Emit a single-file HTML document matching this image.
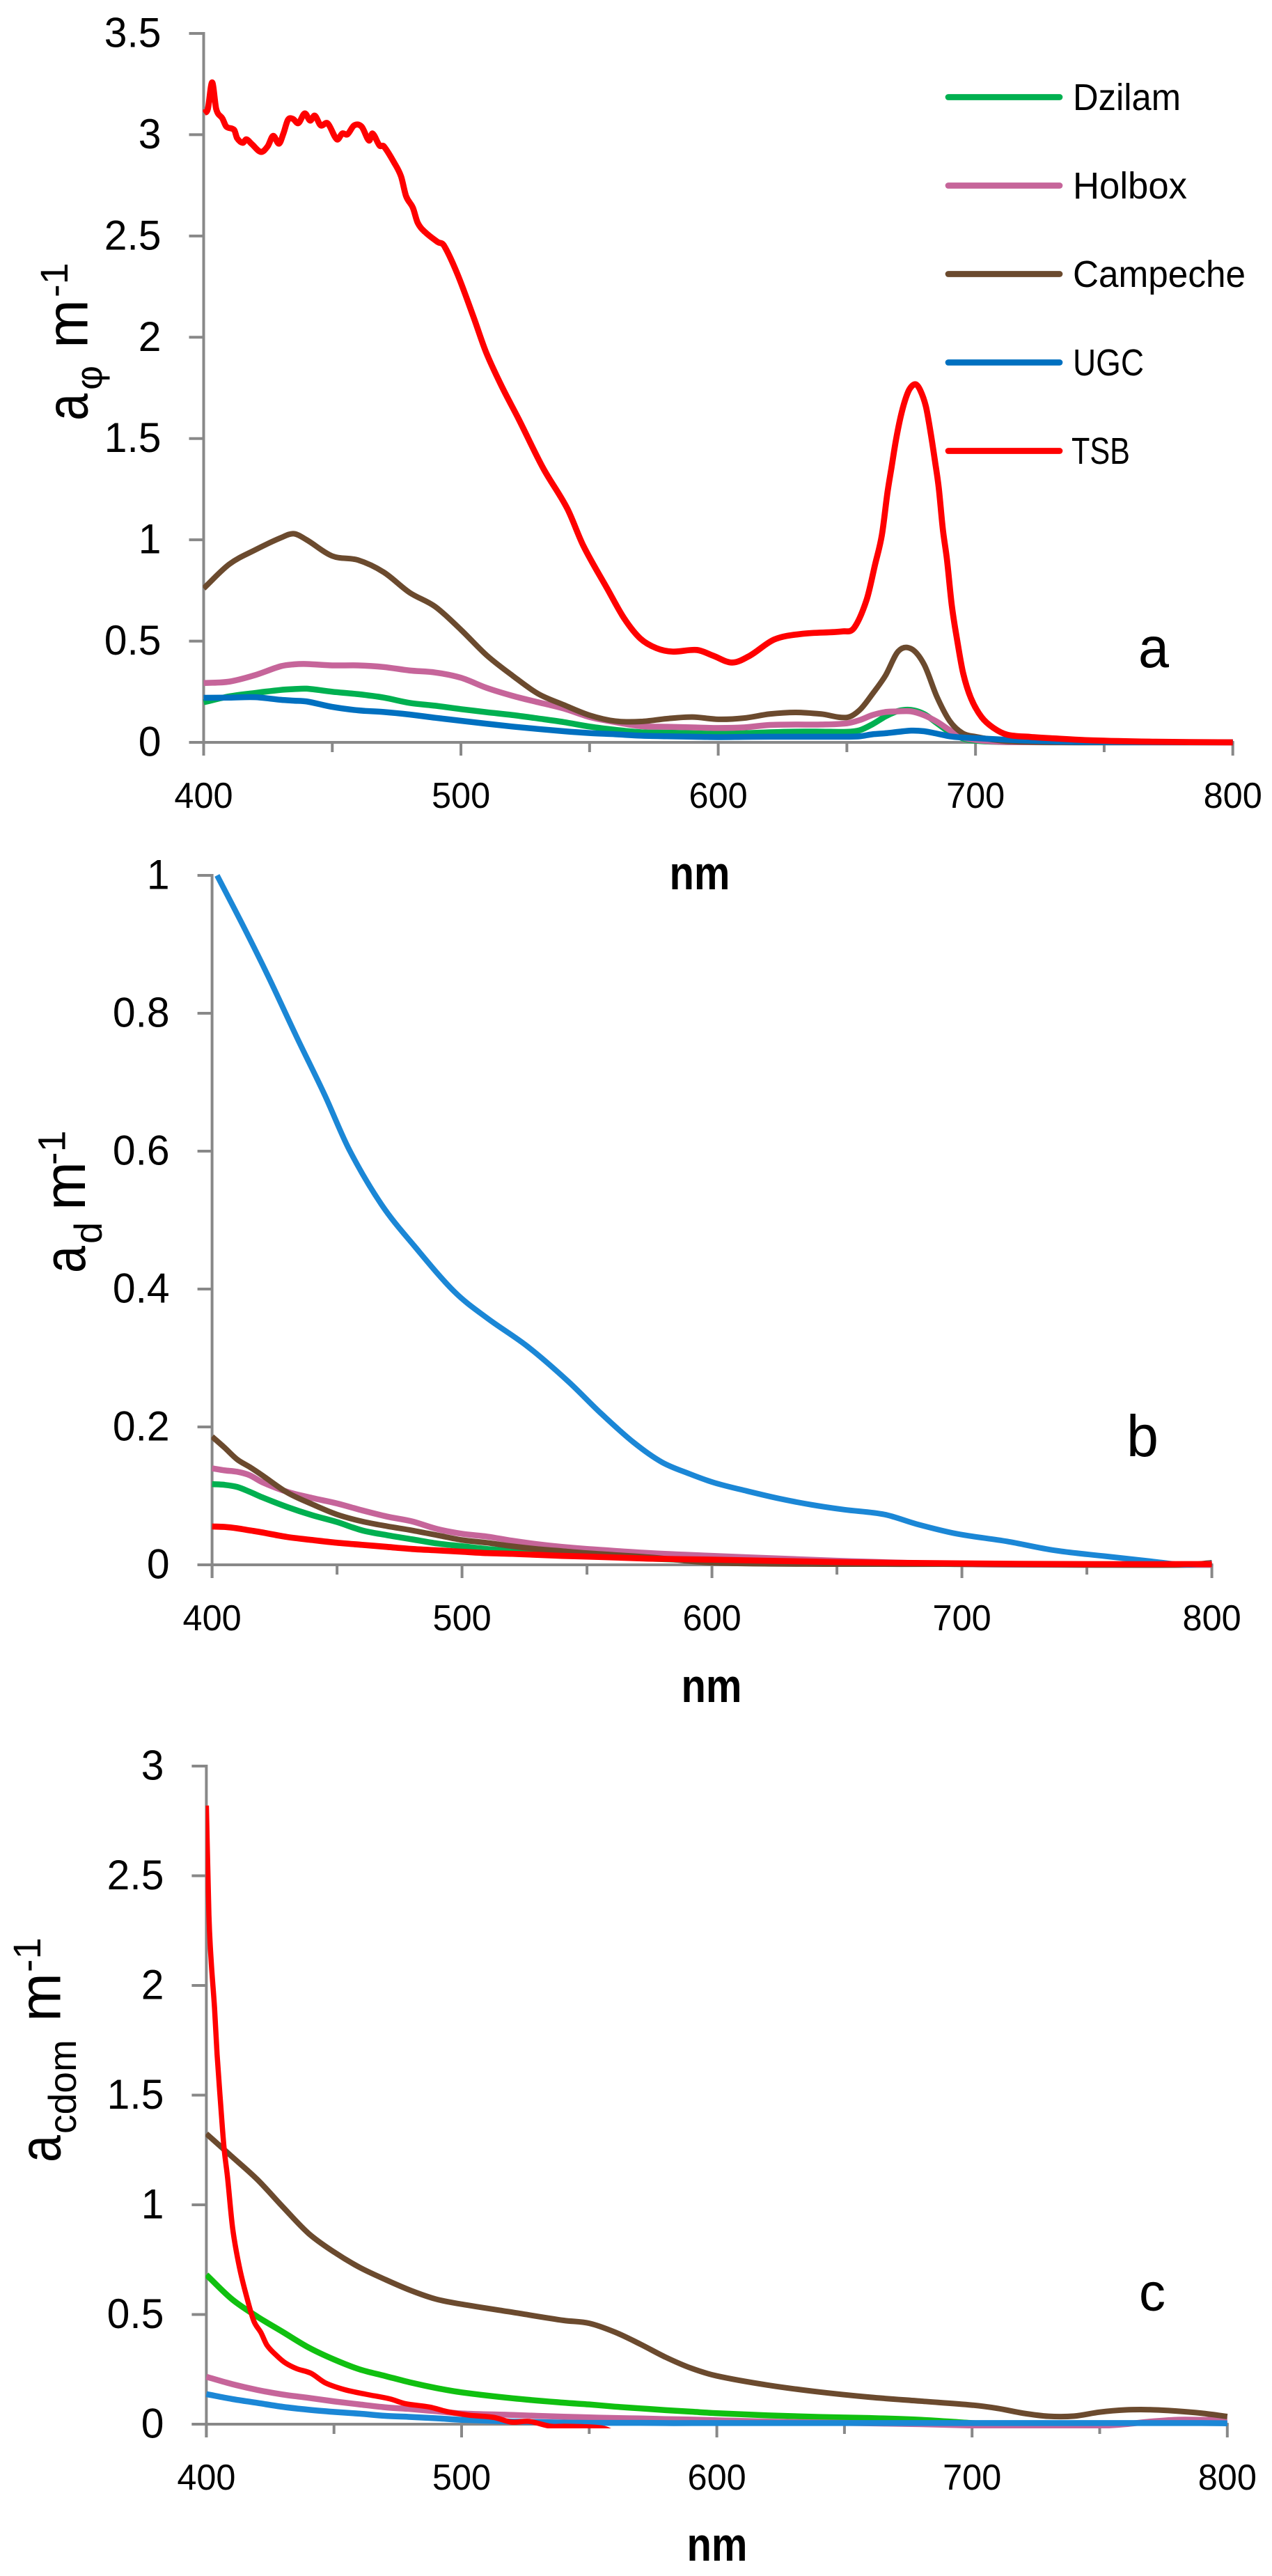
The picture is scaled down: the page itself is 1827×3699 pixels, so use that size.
<!DOCTYPE html>
<html lang="en">
<head>
<meta charset="utf-8">
<title>Absorption spectra</title>
<style>
html,body{margin:0;padding:0;background:#fff}
svg{display:block}
text{font-family:"Liberation Sans",sans-serif;fill:#000}
</style>
</head>
<body>
<svg id="figure" xmlns="http://www.w3.org/2000/svg" width="1827" height="3699" viewBox="0 0 1827 3699">
  <rect x="0" y="0" width="1827" height="3699" fill="#fff"/>
  <g id="panelA"></g>
  <g id="panelB"></g>
  <g id="panelC"></g>

  <g transform="translate(125.5,602) rotate(-90)">
    <text x="-2" y="0" font-size="84" textLength="39" lengthAdjust="spacingAndGlyphs">a</text>
    <text x="42" y="21" font-size="54">φ</text>
    <text x="102" y="0" font-size="84">m</text>
    <text x="175" y="-28.5" font-size="56">-1</text>
  </g>
  <g transform="translate(122,1826) rotate(-90)">
    <text x="-2" y="0" font-size="84" textLength="39" lengthAdjust="spacingAndGlyphs">a</text>
    <text x="40" y="24" font-size="56">d</text>
    <text x="88" y="0" font-size="84">m</text>
    <text x="153" y="-28.5" font-size="56">-1</text>
  </g>
  <g transform="translate(86.5,3103) rotate(-90)">
    <text x="-2" y="0" font-size="84" textLength="39" lengthAdjust="spacingAndGlyphs">a</text>
    <text x="39" y="22.5" font-size="56" textLength="135" lengthAdjust="spacingAndGlyphs">cdom</text>
    <text x="200" y="0" font-size="84">m</text>
    <text x="271" y="-28.5" font-size="56">-1</text>
  </g>

  <text font-size="58" font-weight="700" text-anchor="middle" transform="translate(1005,1277) scale(1,1.167)">nm</text>
  <text font-size="58" font-weight="700" text-anchor="middle" transform="translate(1022,2444) scale(1,1.167)">nm</text>
  <text font-size="58" font-weight="700" text-anchor="middle" transform="translate(1030,3677) scale(1,1.167)">nm</text>

  <text x="1635" y="958" font-size="82" textLength="44" lengthAdjust="spacingAndGlyphs">a</text>
  <text x="1618" y="2091" font-size="84" textLength="46" lengthAdjust="spacingAndGlyphs">b</text>
  <text x="1636" y="3318" font-size="76" textLength="38" lengthAdjust="spacingAndGlyphs">c</text>

  <g stroke-linecap="round">
    <line x1="1362" y1="139.5" x2="1522" y2="139.5" stroke="#00B050" stroke-width="8.7"/>
    <text x="1541" y="158" font-size="54" textLength="155" lengthAdjust="spacingAndGlyphs">Dzilam</text>
    <line x1="1362" y1="266.5" x2="1522" y2="266.5" stroke="#C6659A" stroke-width="8.7"/>
    <text x="1541" y="285" font-size="54" textLength="164" lengthAdjust="spacingAndGlyphs">Holbox</text>
    <line x1="1362" y1="393.5" x2="1522" y2="393.5" stroke="#6B4A2E" stroke-width="8.7"/>
    <text x="1541" y="412" font-size="54" textLength="248" lengthAdjust="spacingAndGlyphs">Campeche</text>
    <line x1="1362" y1="520.5" x2="1522" y2="520.5" stroke="#0070C0" stroke-width="8.7"/>
    <text x="1541" y="539" font-size="54" textLength="102" lengthAdjust="spacingAndGlyphs">UGC</text>
    <line x1="1362" y1="647.5" x2="1522" y2="647.5" stroke="#FF0000" stroke-width="8.7"/>
    <text x="1539" y="666" font-size="54" textLength="84" lengthAdjust="spacingAndGlyphs">TSB</text>
  </g>
</svg>
<script>
/* ---------- shared tick data ---------- */
const xTickValues = [400, 450, 500, 550, 600, 650, 700, 750, 800];
const xTickLabels = ["400", "", "500", "", "600", "", "700", "", "800"];

/* ---------- panel a: phytoplankton absorption ---------- */
const aYTicks = [0, 0.5, 1, 1.5, 2, 2.5, 3, 3.5];
const aYLabels = ["0", "0.5", "1", "1.5", "2", "2.5", "3", "3.5"];
const aWavelengths = [400,410,420,430,435,440,450,460,470,480,490,500,510,520,530,540,550,560,570,580,590,600,610,620,630,640,650,655,660,665,670,675,680,685,690,695,700,710,720,740,800];
const aDzilam = [.198,.227,.244,.259,.263,.265,.25,.238,.221,.195,.181,.164,.149,.135,.118,.10,.078,.062,.05,.048,.045,.042,.045,.05,.053,.053,.052,.06,.09,.128,.155,.16,.14,.095,.05,.02,.008,.002,.001,0,0];
const aHolbox = [.293,.30,.332,.376,.385,.387,.38,.38,.372,.355,.345,.319,.269,.23,.198,.167,.125,.10,.08,.077,.074,.071,.074,.086,.088,.088,.094,.11,.135,.15,.153,.153,.134,.102,.06,.025,.012,.002,.001,0,0];
const aCampeche = [.76,.88,.95,1.01,1.03,1.0,.92,.90,.84,.74,.67,.556,.43,.33,.24,.185,.134,.105,.103,.117,.125,.114,.12,.14,.148,.14,.123,.16,.24,.33,.45,.462,.385,.225,.105,.045,.028,.008,.002,0,0];
const aUGC = [.22,.221,.223,.21,.206,.202,.175,.158,.15,.1375,.1215,.1066,.092,.078,.066,.055,.046,.04,.033,.03,.028,.026,.027,.028,.028,.028,.028,.03,.04,.045,.052,.058,.055,.043,.03,.024,.021,.014,.009,.002,0];
const aTSBWavelengths = [400,401.6,403.3,404.9,407.3,408.8,411.9,413,415.2,416.6,418.7,422.3,424.9,427,429.3,431,432.8,434.7,436.8,439.3,441.4,443.2,445.5,448.2,451.8,453.9,455.9,458.5,461.4,464.3,465.6,468.4,470,474,476.7,478.7,481.3,483.2,486,491,493.4,498.7,505,509.8,516,522.4,531.9,541.3,547.6,557,563.4,569.7,576,582.3,591.8,598,605.4,612.3,621.8,632.8,648.6,652.8,657.7,661,663.6,665.8,667.4,669,670.8,672.6,674.4,676.7,678.5,680.7,682.5,684.3,685.7,687.3,688.9,690.8,692.9,695.2,698.3,702.4,706.9,712.3,721.3,730,745,770,800];
const aTSB = [3.109,3.126,3.258,3.126,3.08,3.04,3.023,2.983,2.96,2.977,2.954,2.915,2.943,2.994,2.956,3.006,3.074,3.078,3.057,3.105,3.07,3.094,3.046,3.056,2.977,3.006,3.002,3.046,3.04,2.971,3.006,2.946,2.943,2.863,2.795,2.696,2.64,2.565,2.52,2.47,2.453,2.31,2.096,1.925,1.754,1.597,1.355,1.155,.97,.756,.613,.513,.465,.448,.456,.428,.394,.428,.508,.536,.548,.565,.705,.88,1.023,1.235,1.361,1.487,1.602,1.688,1.745,1.768,1.739,1.659,1.533,1.384,1.258,1.052,.903,.674,.502,.341,.216,.124,.072,.038,.027,.02,.01,.003,0];

/* ---------- panel b: detritus absorption ---------- */
const bYTicks = [0, 0.2, 0.4, 0.6, 0.8, 1];
const bYLabels = ["0", "0.2", "0.4", "0.6", "0.8", "1"];
const bWavelengths = [400,405,410,415,420,430,440,450,460,470,480,490,500,510,520,530,540,550,575,600,650,700,750,790,800];
const bDzilam = [.117,.116,.113,.106,.098,.084,.072,.062,.05,.043,.037,.031,.027,.023,.02,.017,.015,.013,.009,.006,.003,.001,0,0,0];
const bHolbox = [.14,.137,.135,.13,.12,.106,.097,.089,.079,.07,.063,.052,.045,.041,.035,.03,.026,.023,.017,.013,.006,.001,0,0,0];
const bCampeche = [.186,.170,.153,.142,.130,.105,.088,.073,.063,.056,.050,.043,.036,.032,.027,.023,.020,.017,.011,.003,.001,.001,0,0,.003];
const bUGCWavelengths = [402,412.7,422.4,433.8,445,454.9,467.9,480.8,497,510,526.3,542.5,555.5,568.5,579.9,591,601,614,627,640,653,669,682,698,718,737,757,776,789,800];
const bUGC = [1.0,.925,.854,.766,.682,.602,.522,.463,.396,.358,.3165,.266,.22,.178,.149,.132,.119,.107,.096,.087,.08,.073,.059,.045,.034,.021,.0126,.005,0,.002];
const bTSB = [.0556,.055,.053,.05,.047,.0404,.036,.032,.029,.026,.023,.021,.019,.017,.016,.0145,.013,.012,.009,.0075,.004,.002,.001,.001,.001];

/* ---------- panel c: CDOM absorption ---------- */
const cYTicks = [0, 0.5, 1, 1.5, 2, 2.5, 3];
const cYLabels = ["0", "0.5", "1", "1.5", "2", "2.5", "3"];
const cWavelengths = [400,410,420,430,440,450,460,470,480,490,500,520,540,550,560,570,580,590,600,620,640,660,680,700,710,720,730,740,750,760,770,780,790,800];
const cDzilam = [.681,.57,.49,.42,.35,.295,.25,.22,.19,.165,.145,.118,.098,.09,.08,.072,.064,.057,.05,.04,.033,.028,.02,.005,-.002,-.01,-.03,-.05,-.05,-.05,-.05,-.05,-.05,-.05];
const cHolbox = [.216,.183,.156,.135,.12,.104,.09,.077,.069,.059,.049,.042,.034,.031,.028,.026,.023,.021,.018,.012,.008,.004,0,-.006,-.008,-.01,-.01,-.012,-.008,0,.012,.02,.02,.02];
const cCampeche = [1.324,1.22,1.115,.99,.87,.785,.715,.66,.61,.57,.547,.51,.473,.46,.42,.365,.305,.255,.22,.178,.147,.123,.105,.087,.072,.05,.036,.037,.055,.065,.066,.06,.05,.035];
const cUGC = [.137,.115,.097,.079,.066,.056,.048,.038,.033,.027,.02,.012,.007,.006,.006,.006,.005,.005,.005,.005,.005,.005,.005,.005,.005,.005,.005,.005,.005,.005,.005,.005,.005,.004];
const cTSBWavelengths = [400,401,401.9,403.2,404.2,405.5,406.9,408.3,410.3,413,415.9,418.6,421.4,423.8,427.7,431,435.4,441,446.5,454,462.5,472,477.8,487.5,494.5,502.9,512.6,519.6,526.5,534.9,540.4,548.8,556,565,800];
const cTSB = [2.82,2.32,2.109,1.898,1.686,1.474,1.263,1.125,.893,.713,.576,.47,.417,.359,.311,.279,.253,.232,.189,.158,.1365,.115,.094,.078,.057,.041,.031,.0095,.0127,-.0095,-.0095,-.012,-.02,-.06,-.06];

const SVG_NS = "http://www.w3.org/2000/svg";
const AXIS_COLOR = "#888888";

function makeScale(d0, d1, r0, r1) {
  return function (v) { return r0 + (v - d0) * (r1 - r0) / (d1 - d0); };
}

/* Non-uniform Catmull-Rom through the sampled points, parameterised on x. */
function smoothPath(xs, ys) {
  const n = xs.length;
  const slope = xs.map(function (x, i) {
    const a = Math.max(i - 1, 0), b = Math.min(i + 1, n - 1);
    return (ys[b] - ys[a]) / (xs[b] - xs[a]);
  });
  let d = "M" + xs[0].toFixed(2) + " " + ys[0].toFixed(2);
  for (let i = 0; i < n - 1; i++) {
    const dx = xs[i + 1] - xs[i];
    const c1x = xs[i] + dx / 3;
    const c1y = ys[i] + slope[i] * dx / 3;
    const c2x = xs[i + 1] - dx / 3;
    const c2y = ys[i + 1] - slope[i + 1] * dx / 3;
    d += "C" + c1x.toFixed(2) + " " + c1y.toFixed(2) + " " + c2x.toFixed(2) + " " + c2y.toFixed(2) + " " + xs[i + 1].toFixed(2) + " " + ys[i + 1].toFixed(2);
  }
  return d;
}

function addTick(parent, x1, y1, x2, y2, w, name) {
  const el = document.createElementNS(SVG_NS, "line");
  el.setAttribute("x1", x1);
  el.setAttribute("y1", y1);
  el.setAttribute("x2", x2);
  el.setAttribute("y2", y2);
  el.setAttribute("stroke", AXIS_COLOR);
  el.setAttribute("stroke-width", w);
  
  
  parent.appendChild(el);
}

function addLabel(parent, str, x, y, size, sx, anchor, name) {
  const el = document.createElementNS(SVG_NS, "text");
  el.setAttribute("transform", "translate(" + x + "," + y + ") scale(" + sx + ",1)");
  el.setAttribute("font-size", size);
  el.setAttribute("text-anchor", anchor);
  el.textContent = str;
  
  
  parent.appendChild(el);
}

function addSeries(parent, clipId, wavelengths, values, color, width, xS, yS, name) {
  const el = document.createElementNS(SVG_NS, "path");
  el.setAttribute("d", smoothPath(wavelengths.map(xS), values.map(yS)));
  el.setAttribute("fill", "none");
  el.setAttribute("stroke", color);
  el.setAttribute("stroke-width", width);
  el.setAttribute("stroke-linejoin", "round");
  el.setAttribute("clip-path", "url(#" + clipId + ")");
  
  
  parent.appendChild(el);
}

function drawPanel(cfg) {
  const g = document.getElementById(cfg.id);
  const xS = makeScale(400, 800, cfg.x0, cfg.x1);
  const yS = makeScale(0, cfg.yMax, cfg.y0, cfg.yTop);

  addTick(g, cfg.x0, cfg.yTop - 2, cfg.x0, cfg.y0 + 19, 4, "y-axis-line-" + cfg.key);
  addTick(g, cfg.x0 - 21, cfg.y0, cfg.x1 + 2, cfg.y0, 4, "x-axis-line-" + cfg.key);

  cfg.yTicks.forEach(function (v, i) {
    const y = yS(v);
    addTick(g, cfg.x0 - 21, y, cfg.x0, y, 4, "y-tick-" + cfg.key);
    addLabel(g, cfg.yLabels[i], cfg.x0 - 61, y + 19.5, 60, 0.98, "end", "y-tick-label-" + cfg.key);
  });
  xTickValues.forEach(function (v, i) {
    const x = xS(v);
    const major = xTickLabels[i] !== "";
    addTick(g, x, cfg.y0, x, cfg.y0 + (major ? 19 : 14), 4, "x-tick-" + cfg.key);
    if (major) {
      addLabel(g, xTickLabels[i], x, cfg.y0 + 94, 52, 0.97, "middle", "x-tick-label-" + cfg.key);
    }
  });

  const defs = document.createElementNS(SVG_NS, "clipPath");
  const clipId = "clip-" + cfg.key;
  defs.setAttribute("id", clipId);
  const r = document.createElementNS(SVG_NS, "rect");
  r.setAttribute("x", cfg.x0 - 1);
  r.setAttribute("y", cfg.yTop - 4);
  r.setAttribute("width", cfg.x1 - cfg.x0 + 8);
  r.setAttribute("height", cfg.y0 - cfg.yTop + 10);
  defs.appendChild(r);
  g.appendChild(defs);

  cfg.series.forEach(function (s) {
    addSeries(g, clipId, s.w, s.v, s.c, s.lw, xS, yS, "series-" + s.n + "-" + cfg.key);
  });
}

drawPanel({
  id: "panelA", key: "a", x0: 292.5, x1: 1770.7, y0: 1066, yTop: 48, yMax: 3.5,
  yTicks: aYTicks, yLabels: aYLabels,
  series: [
    { n: "dzilam", w: aWavelengths, v: aDzilam, c: "#00B050", lw: 8.5 },
    { n: "holbox", w: aWavelengths, v: aHolbox, c: "#C6659A", lw: 8.5 },
    { n: "campeche", w: aWavelengths, v: aCampeche, c: "#6B4A2E", lw: 8 },
    { n: "ugc", w: aWavelengths, v: aUGC, c: "#0070C0", lw: 8.5 },
    { n: "tsb", w: aTSBWavelengths, v: aTSB, c: "#FF0000", lw: 8.7 }
  ]
});
drawPanel({
  id: "panelB", key: "b", x0: 304.6, x1: 1740.6, y0: 2247, yTop: 1257, yMax: 1,
  yTicks: bYTicks, yLabels: bYLabels,
  series: [
    { n: "dzilam", w: bWavelengths, v: bDzilam, c: "#00B050", lw: 8.5 },
    { n: "holbox", w: bWavelengths, v: bHolbox, c: "#C6659A", lw: 8.5 },
    { n: "campeche", w: bWavelengths, v: bCampeche, c: "#6B4A2E", lw: 8 },
    { n: "ugc", w: bUGCWavelengths, v: bUGC, c: "#1B87D6", lw: 8 },
    { n: "tsb", w: bWavelengths, v: bTSB, c: "#FF0000", lw: 8.7 }
  ]
});
drawPanel({
  id: "panelC", key: "c", x0: 296.4, x1: 1762.8, y0: 3481, yTop: 2536, yMax: 3,
  yTicks: cYTicks, yLabels: cYLabels,
  series: [
    { n: "dzilam", w: cWavelengths, v: cDzilam, c: "#10C010", lw: 8.5 },
    { n: "holbox", w: cWavelengths, v: cHolbox, c: "#C6659A", lw: 8.5 },
    { n: "campeche", w: cWavelengths, v: cCampeche, c: "#6B4A2E", lw: 8 },
    { n: "ugc", w: cWavelengths, v: cUGC, c: "#1B87D6", lw: 8.5 },
    { n: "tsb", w: cTSBWavelengths, v: cTSB, c: "#FF0000", lw: 7.5 }
  ]
});
</script>
</body>
</html>
